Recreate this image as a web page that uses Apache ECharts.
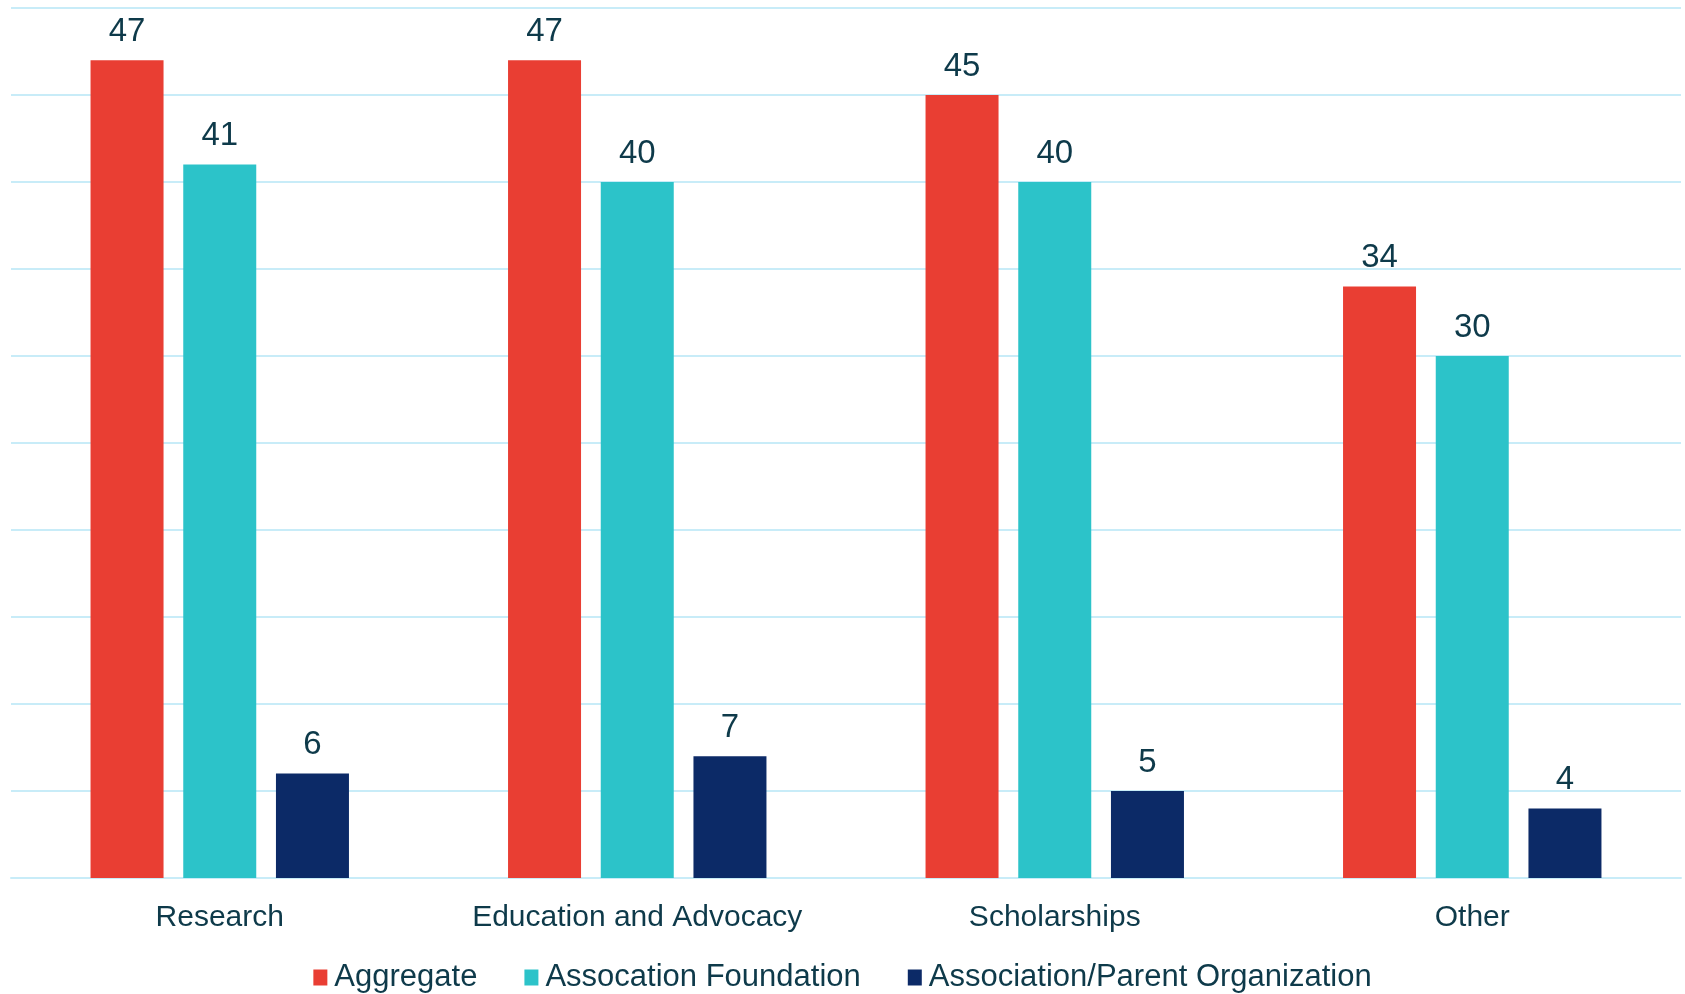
<!DOCTYPE html>
<html>
<head>
<meta charset="utf-8">
<script src="https://cdn.jsdelivr.net/npm/echarts@6/dist/echarts.min.js"></script>
<style>html,body{margin:0;padding:0;background:#fff;}#c{width:1685px;height:994px;}</style>
</head>
<body>
<div id="c"></div>
<script>
const categories = ['Research', 'Education and Advocacy', 'Scholarships', 'Other'];
const seriesNames = ['Aggregate', 'Assocation Foundation', 'Association/Parent Organization'];
const aggregate = [47, 47, 45, 34];
const foundation = [41, 40, 40, 30];
const parentOrg = [6, 7, 5, 4];
const colors = ['#E93E33', '#2CC3C9', '#0C2A67'];
const textColor = '#0E3A4A';
const gridColor = '#C8ECF8';
const fontFamily = '"Liberation Sans", Arial, sans-serif';

const chart = echarts.init(document.getElementById('c'), null, {renderer: 'canvas'});
const mk = (name, data, color) => ({
  name, type: 'bar', data,
  barWidth: 73, barGap: '27%',
  itemStyle: {color},
  label: {show: true, position: 'top', distance: 12, color: textColor, fontSize: 33, fontFamily},
  emphasis: {disabled: true}
});
chart.setOption({
  animation: false,
  color: colors,
  grid: {left: 11, right: 4, top: 8, bottom: 116, containLabel: false},
  legend: {
    data: seriesNames, top: 957, left: 'center',
    itemWidth: 14, itemHeight: 16, itemGap: 47,
    icon: 'rect',
    textStyle: {color: textColor, fontSize: 31, fontFamily, padding: [0, 0, 0, 2]}
  },
  xAxis: {
    type: 'category', data: categories,
    axisLine: {lineStyle: {color: gridColor, width: 2}},
    axisTick: {show: false},
    axisLabel: {color: textColor, fontSize: 30, fontFamily, margin: 25, interval: 0}
  },
  yAxis: {
    type: 'value', min: 0, max: 50, interval: 5,
    axisLabel: {show: false}, axisLine: {show: false}, axisTick: {show: false},
    splitLine: {lineStyle: {color: gridColor, width: 2}}
  },
  series: [mk(seriesNames[0], aggregate, colors[0]), mk(seriesNames[1], foundation, colors[1]), mk(seriesNames[2], parentOrg, colors[2])]
});
</script>
</body>
</html>
